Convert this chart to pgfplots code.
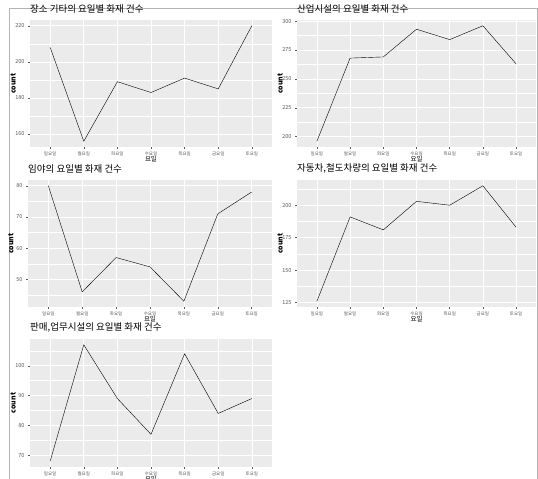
\documentclass[border=0pt]{standalone}
\usepackage{fontspec}
\setmainfont{Noto Sans CJK KR}
\usepackage{pgfplots}
\pgfplotsset{compat=1.18}
\definecolor{ggbg}{HTML}{EBEBEB}
\definecolor{ggtxt}{HTML}{5A5A5A}
\definecolor{frame}{HTML}{B4B4B4}
\pgfplotsset{gg/.style={
  scale only axis, height=127pt,
  axis background/.style={fill=ggbg},
  axis line style={draw=none},
  tick align=outside, tick pos=left,
  major tick length=2pt, minor tick length=0pt,
  every tick/.style={ggtxt, line width=0.4pt},
  grid=both, minor x tick num=0,
  major grid style={white, line width=0.6pt},
  minor grid style={white, line width=0.3pt},
  xmin=0.4, xmax=7.6, xtick={1,2,3,4,5,6,7},
  xticklabels={일요일,월요일,화요일,수요일,목요일,금요일,토요일},
  /pgf/number format/assume math mode=true,
  x tick label style={font=\fontsize{4.5}{5}\selectfont, text=ggtxt, yshift=1pt},
  y tick label style={font=\fontsize{5.5}{6}\selectfont, text=ggtxt},
  xlabel={요일}, ylabel={count},
  xlabel style={font=\fontsize{6.5}{7}\selectfont, at={(axis description cs:0.5,0)}, anchor=north, yshift=-8.5pt, inner sep=0pt},
  ylabel style={font=\bfseries\fontsize{7}{8}\selectfont, at={(axis description cs:-0.07,0.5)}, anchor=center, inner sep=0pt},
  title style={font=\fontsize{9.5}{10}\selectfont, at={(axis description cs:0,1)}, anchor=south west, yshift=0.3pt, inner sep=0pt},
  cycle list={{black, line width=0.5pt, mark=*, mark size=0.7pt, mark options={solid}}},
}}
\begin{document}
\begin{tikzpicture}
\useasboundingbox (0,0) rectangle (538pt,479pt);
\clip (0,0) rectangle (538pt,479pt);
\draw[frame, line width=0.7pt] (9pt,0pt) -- (9pt,471pt) -- (537pt,471pt) -- (537pt,0pt);

% Panel 1
\begin{axis}[gg, at={(30pt,459pt)}, anchor=north west, width=242pt,
  title={장소 기타의 요일별 화재 건수},
  ymin=152.8, ymax=223.2, ytick={160,180,200,220}, minor ytick={170,190,210}]
\addplot coordinates {(1,208) (2,156) (3,189) (4,183) (5,191) (6,185) (7,220)};
\end{axis}

% Panel 2
\begin{axis}[gg, at={(297pt,459pt)}, anchor=north west, width=239pt,
  title={산업시설의 요일별 화재 건수},
  ymin=191, ymax=301, ytick={200,225,250,275,300}, minor ytick={212.5,237.5,262.5,287.5}]
\addplot coordinates {(1,196) (2,268) (3,269) (4,293) (5,284) (6,296) (7,263)};
\end{axis}

% Panel 3
\begin{axis}[gg, at={(28pt,299pt)}, anchor=north west, width=244pt,
  title={임야의 요일별 화재 건수},
  ymin=41.15, ymax=81.85, ytick={50,60,70,80}, minor ytick={45,55,65,75}]
\addplot coordinates {(1,80) (2,46) (3,57) (4,54) (5,43) (6,71) (7,78)};
\end{axis}

% Panel 4
\begin{axis}[gg, at={(297pt,299pt)}, anchor=north west, width=239pt,
  title={자동차,철도차량의 요일별 화재 건수},
  ymin=121.55, ymax=219.45, ytick={125,150,175,200}, minor ytick={137.5,162.5,187.5,212.5}]
\addplot coordinates {(1,126) (2,191) (3,181) (4,203) (5,200) (6,215) (7,183)};
\end{axis}

% Panel 5
\begin{axis}[gg, at={(30pt,140pt)}, anchor=north west, width=242pt, height=128pt,
  title={판매,업무시설의 요일별 화재 건수},
  ymin=66.05, ymax=108.95, ytick={70,80,90,100}, minor ytick={75,85,95,105}]
\addplot coordinates {(1,68) (2,107) (3,89) (4,77) (5,104) (6,84) (7,89)};
\end{axis}
\end{tikzpicture}
\end{document}
